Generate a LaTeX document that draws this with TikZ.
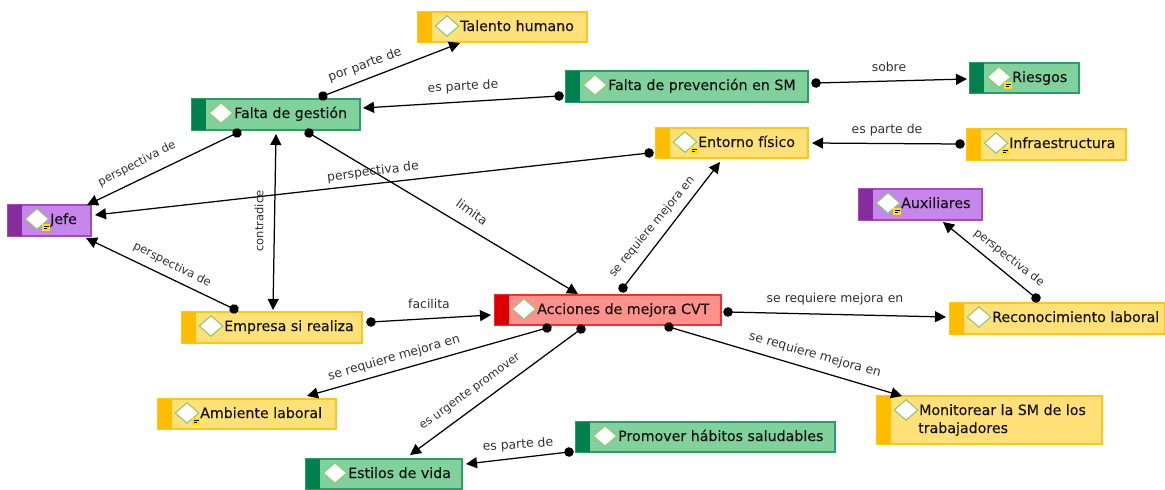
\documentclass[tikz,border=0pt]{standalone}
\usepackage{fontspec}
\setmainfont{DejaVu Sans}
\newfontfamily\titlefont[FakeBold=0.25]{DejaVu Sans}
\usetikzlibrary{arrows.meta,shapes.geometric}
\definecolor{gF}{HTML}{80D19C}\definecolor{gD}{HTML}{2E9C68}\definecolor{gB}{HTML}{00804F}
\definecolor{yF}{HTML}{FFE177}\definecolor{yD}{HTML}{FFC61A}\definecolor{yB}{HTML}{FFBC00}
\definecolor{pF}{HTML}{C686EC}\definecolor{pD}{HTML}{A04CB8}\definecolor{pB}{HTML}{872C9E}
\definecolor{rF}{HTML}{FF918B}\definecolor{rD}{HTML}{F03030}\definecolor{rB}{HTML}{DC0000}
\definecolor{tx}{HTML}{141414}\definecolor{lb}{HTML}{303030}\definecolor{dg}{HTML}{8CCB70}
\tikzset{
 x=1pt,y=-1pt,
 boxnode/.style={draw,line width=1.1pt,inner sep=0pt,rectangle},
 tag/.style={diamond,draw=dg,fill=white,line width=1.1pt,inner sep=0pt,minimum width=24pt,minimum height=21pt},
 notemark/.style={fill=yellow!85!orange,inner sep=0pt,minimum width=8pt,minimum height=6.5pt,
   path picture={\draw[black,line width=.5pt] ([shift={(-2.5,-.8)}]path picture bounding box.center)--++(5,0) ([shift={(-2.5,1)}]path picture bounding box.center)--++(3.5,0);}},
 title/.style={anchor=base west,inner sep=0pt,text=tx,font=\titlefont\fontsize{14.2}{17}\selectfont},
 linkbase/.style={line width=1.25pt,draw=black},
 link/.style={linkbase,shorten <=-4.75pt,{Circle[length=9.5pt]}-{Triangle[length=11pt,width=11pt]}},
 linklabel/.style={inner sep=0pt,text=lb,font=\fontsize{12.4}{14}\selectfont},
 smalllabel/.style={inner sep=0pt,text=lb,font=\fontsize{11.5}{14}\selectfont},
}
% name, x1, y1, x2, y2, colour prefix, text
\newcommand\conceptbox[7]{%
 \node[boxnode,draw=#6D,fill=#6F,minimum width=#4pt-#2pt,minimum height=#5pt-#3pt] (#1) at ({(#2+#4)/2},{(#3+#5)/2}) {};
 \fill[#6B] (#2,#3) rectangle (#2+14,#5);
 \node[tag] (#1-d) at (#2+29,#3+14) {};
 \node[title] (#1-t) at (#2+42,#3+19) {#7};
}
\newcommand\notemk[1]{\node[notemark] (#1-n) at ([shift={(9,8.5)}]#1-d.center) {};}
\begin{document}
\begin{tikzpicture}
\useasboundingbox (0,0) rectangle (1165,490);
\conceptbox{tal}{418}{12}{587}{42}{y}{Talento humano}
\conceptbox{fg}{192}{99}{360}{130}{g}{Falta de gestión}
\conceptbox{prev}{566}{71}{808}{102}{g}{Falta de prevención en SM}
\conceptbox{ries}{970}{63}{1079}{93}{g}{Riesgos}\notemk{ries}
\conceptbox{ent}{656}{128}{808}{158}{y}{Entorno físico}\notemk{ent}
\conceptbox{inf}{967}{129}{1126}{160}{y}{Infraestructura}\notemk{inf}
\conceptbox{aux}{859}{189}{982}{220}{p}{Auxiliares}\notemk{aux}
\conceptbox{jefe}{8}{205}{91}{236}{p}{Jefe}\notemk{jefe}
\conceptbox{acc}{495}{295}{721}{325}{r}{Acciones de mejora CVT}
\conceptbox{emp}{182}{312}{362}{343}{y}{Empresa si realiza}
\conceptbox{rec}{950}{303}{1165}{334}{y}{Reconocimiento laboral}
\conceptbox{amb}{158}{399}{336}{429}{y}{Ambiente laboral}\notemk{amb}
\conceptbox{mon}{877}{396}{1102}{444}{y}{Monitorear la SM de los}
\node[title] (mon-t2) at (918,433) {trabajadores};
\conceptbox{pro}{576}{422}{835}{452}{g}{Promover hábitos saludables}
\conceptbox{est}{306}{459}{462}{489}{g}{Estilos de vida}
\draw[link] ([shift={(47,-18.5)}]fg.center) -- ([shift={(-42.5,16)}]tal.center);
\draw[link] ([shift={(-128,9.5)}]prev.center) -- ([shift={(87,-6.5)}]fg.center);
\draw[link] ([shift={(129,-3.5)}]prev.center) -- ([shift={(-57.5,1)}]ries.center);
\draw[link] ([shift={(-86.5,-.5)}]inf.center) -- ([shift={(80,0)}]ent.center);
\draw[link] ([shift={(-83,10)}]ent.center) -- ([shift={(45.5,-5.5)}]jefe.center);
\draw[link] ([shift={(-39,18.5)}]fg.center) -- ([shift={(37.5,-15.5)}]jefe.center);
\draw[link] ([shift={(33,18.5)}]fg.center) -- ([shift={(-30,-16)}]acc.center);
\draw[linkbase,{Triangle[length=11pt,width=11pt]}-{Triangle[length=11pt,width=11pt]}] ([shift={(0,19.5)}]fg.center) -- ([shift={(1,-17.5)}]emp.center);
\draw[link] ([shift={(-38,-18.5)}]emp.center) -- ([shift={(36.5,17.5)}]jefe.center);
\draw[link] ([shift={(99,-5.5)}]emp.center) -- ([shift={(-117,5)}]acc.center);
\draw[link] ([shift={(15,-22)}]acc.center) -- ([shift={(-12,19)}]ent.center);
\draw[link] ([shift={(120,2)}]acc.center) -- ([shift={(-111.5,-1.5)}]rec.center);
\draw[link] ([shift={(-21.5,-20.5)}]rec.center) -- ([shift={(22.5,17.5)}]aux.center);
\draw[link] ([shift={(-61,18)}]acc.center) -- ([shift={(60,-18)}]amb.center);
\draw[link] ([shift={(-27,19)}]acc.center) -- ([shift={(26,-19)}]est.center);
\draw[link] ([shift={(61,17)}]acc.center) -- ([shift={(-87.5,-24)}]mon.center);
\draw[link] ([shift={(-136.5,15)}]pro.center) -- ([shift={(82,-10)}]est.center);
\node[linklabel,rotate=20] (l1) at (365,65) {por parte de};
\node[linklabel,rotate=3] (l2) at (463,87) {es parte de};
\node[linklabel] (l3) at (889,67) {sobre};
\node[linklabel] (l4) at (887,130) {es parte de};
\node[linklabel,rotate=7] (l5) at (373,172) {perspectiva de};
\node[smalllabel,rotate=27] (l6) at (137,164) {perspectiva de};
\node[smalllabel,rotate=-27] (l7) at (172,265) {perspectiva de};
\node[smalllabel,rotate=90] (l8) at (259,221) {contradice};
\node[linklabel,rotate=-36] (l9) at (472,212) {limita};
\node[linklabel] (l10) at (429,304) {facilita};
\node[smalllabel,rotate=50.5] (l11) at (652,227) {se requiere mejora en};
\node[linklabel] (l12) at (835,299) {se requiere mejora en};
\node[linklabel,rotate=-16] (l13) at (815,355) {se requiere mejora en};
\node[smalllabel,rotate=-38] (l14) at (1009,258) {perspectiva de};
\node[linklabel,rotate=16] (l15) at (394,358) {se requiere mejora en};
\node[smalllabel,rotate=36] (l16) at (470,392) {es urgente promover};
\node[linklabel,rotate=4] (l17) at (518,445) {es parte de};
\end{tikzpicture}
\end{document}
